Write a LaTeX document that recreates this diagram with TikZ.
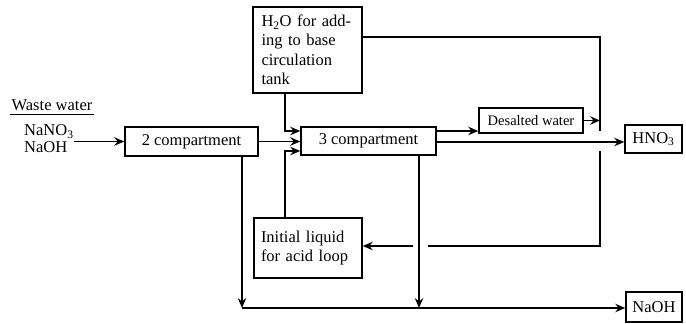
\documentclass[tikz,border=0pt]{standalone}
\usepackage{fontspec}
\setmainfont{Liberation Serif}
\usetikzlibrary{arrows.meta}
\begin{document}
\begin{tikzpicture}[x=1pt,y=-1pt,
  box/.style={draw,line width=1.6pt,inner sep=0pt,font=\fontsize{16.5}{19.5}\selectfont},
  lbl/.style={inner sep=0pt,font=\fontsize{16.5}{17}\selectfont},
  flow/.style={line width=1.2pt},
  arr/.style={flow,-{Stealth[length=10pt,width=8.5pt,inset=3.5pt]}}]
\useasboundingbox (0,0) rectangle (686,324);

% boxes
\node[box,minimum width=109pt,minimum height=86pt,text width=92pt,align=left] (h2o) at (307.5,50) {H\textsubscript{2}O for add-\\ing to base\\circulation\\tank};
\node[box,minimum width=133pt,minimum height=29pt] (c2) at (191.5,141.5) {2 compartment};
\node[box,minimum width=135pt,minimum height=28pt] (c3) at (368.5,141) {3 compartment};
\node[box,minimum width=104pt,minimum height=25pt,font=\fontsize{14.5}{16}\selectfont] (desal) at (531,120.5) {Desalted water};
\node[box,minimum width=57pt,minimum height=28pt] (hno3) at (653.5,139) {HNO\textsubscript{3}};
\node[box,minimum width=108pt,minimum height=60pt,text width=94pt,align=left] (init) at (308,248) {Initial liquid\\for acid loop};
\node[box,minimum width=56pt,minimum height=30pt] (naoh) at (654,307) {NaOH};

% labels
\node[lbl,anchor=south] (ww) at (52,111) {Waste water};
\draw[line width=0.8pt] ([xshift=-1pt,yshift=-3pt]ww.south west) coordinate (ulA) -- ([xshift=1pt,yshift=-3pt]ww.south east) coordinate (ulB);
\node[lbl,anchor=west,align=left] (feed) at (24,139) {NaNO\textsubscript{3}\\NaOH};

% coordinates
\coordinate (tr) at (600,37);
\coordinate (vA) at (600,131);
\coordinate (vB) at (600,151);
\coordinate (br) at (600,246);
\coordinate (gapR) at (428,246);
\coordinate (gapL) at (413,246);
\coordinate (bl) at (242,308);
\coordinate (bm) at (419,308);

% connectors
\draw[arr] (feed.east |- c2.west) -- (c2.west);
\draw[arr] (c2.east) -- (c2.east -| c3.west);
\draw[arr] (285,0 |- h2o.south) |- ([yshift=10pt]c3.west);
\draw[arr] (285,0 |- init.north) |- ([yshift=-10pt]c3.west);
\draw[arr] ([yshift=10pt]c3.east) -- ([yshift=10pt]c3.east -| desal.west);
\draw[arr] ([yshift=-1pt]c3.east) -- ([yshift=-1pt]c3.east -| hno3.west);
\draw[arr] (desal.east) -- (desal.east -| tr);
\draw[flow] (h2o.east |- tr) -- (tr) -- (vA);
\draw[flow] (vB) -- (br) -- (gapR);
\draw[arr] (gapL) -- (gapL -| init.east);
\draw[arr] (bl |- c2.south) -- (bl);
\draw[arr] (bm |- c3.south) -- (bm);
\draw[arr] (bl) -- (bl -| naoh.west);
\end{tikzpicture}
\end{document}
